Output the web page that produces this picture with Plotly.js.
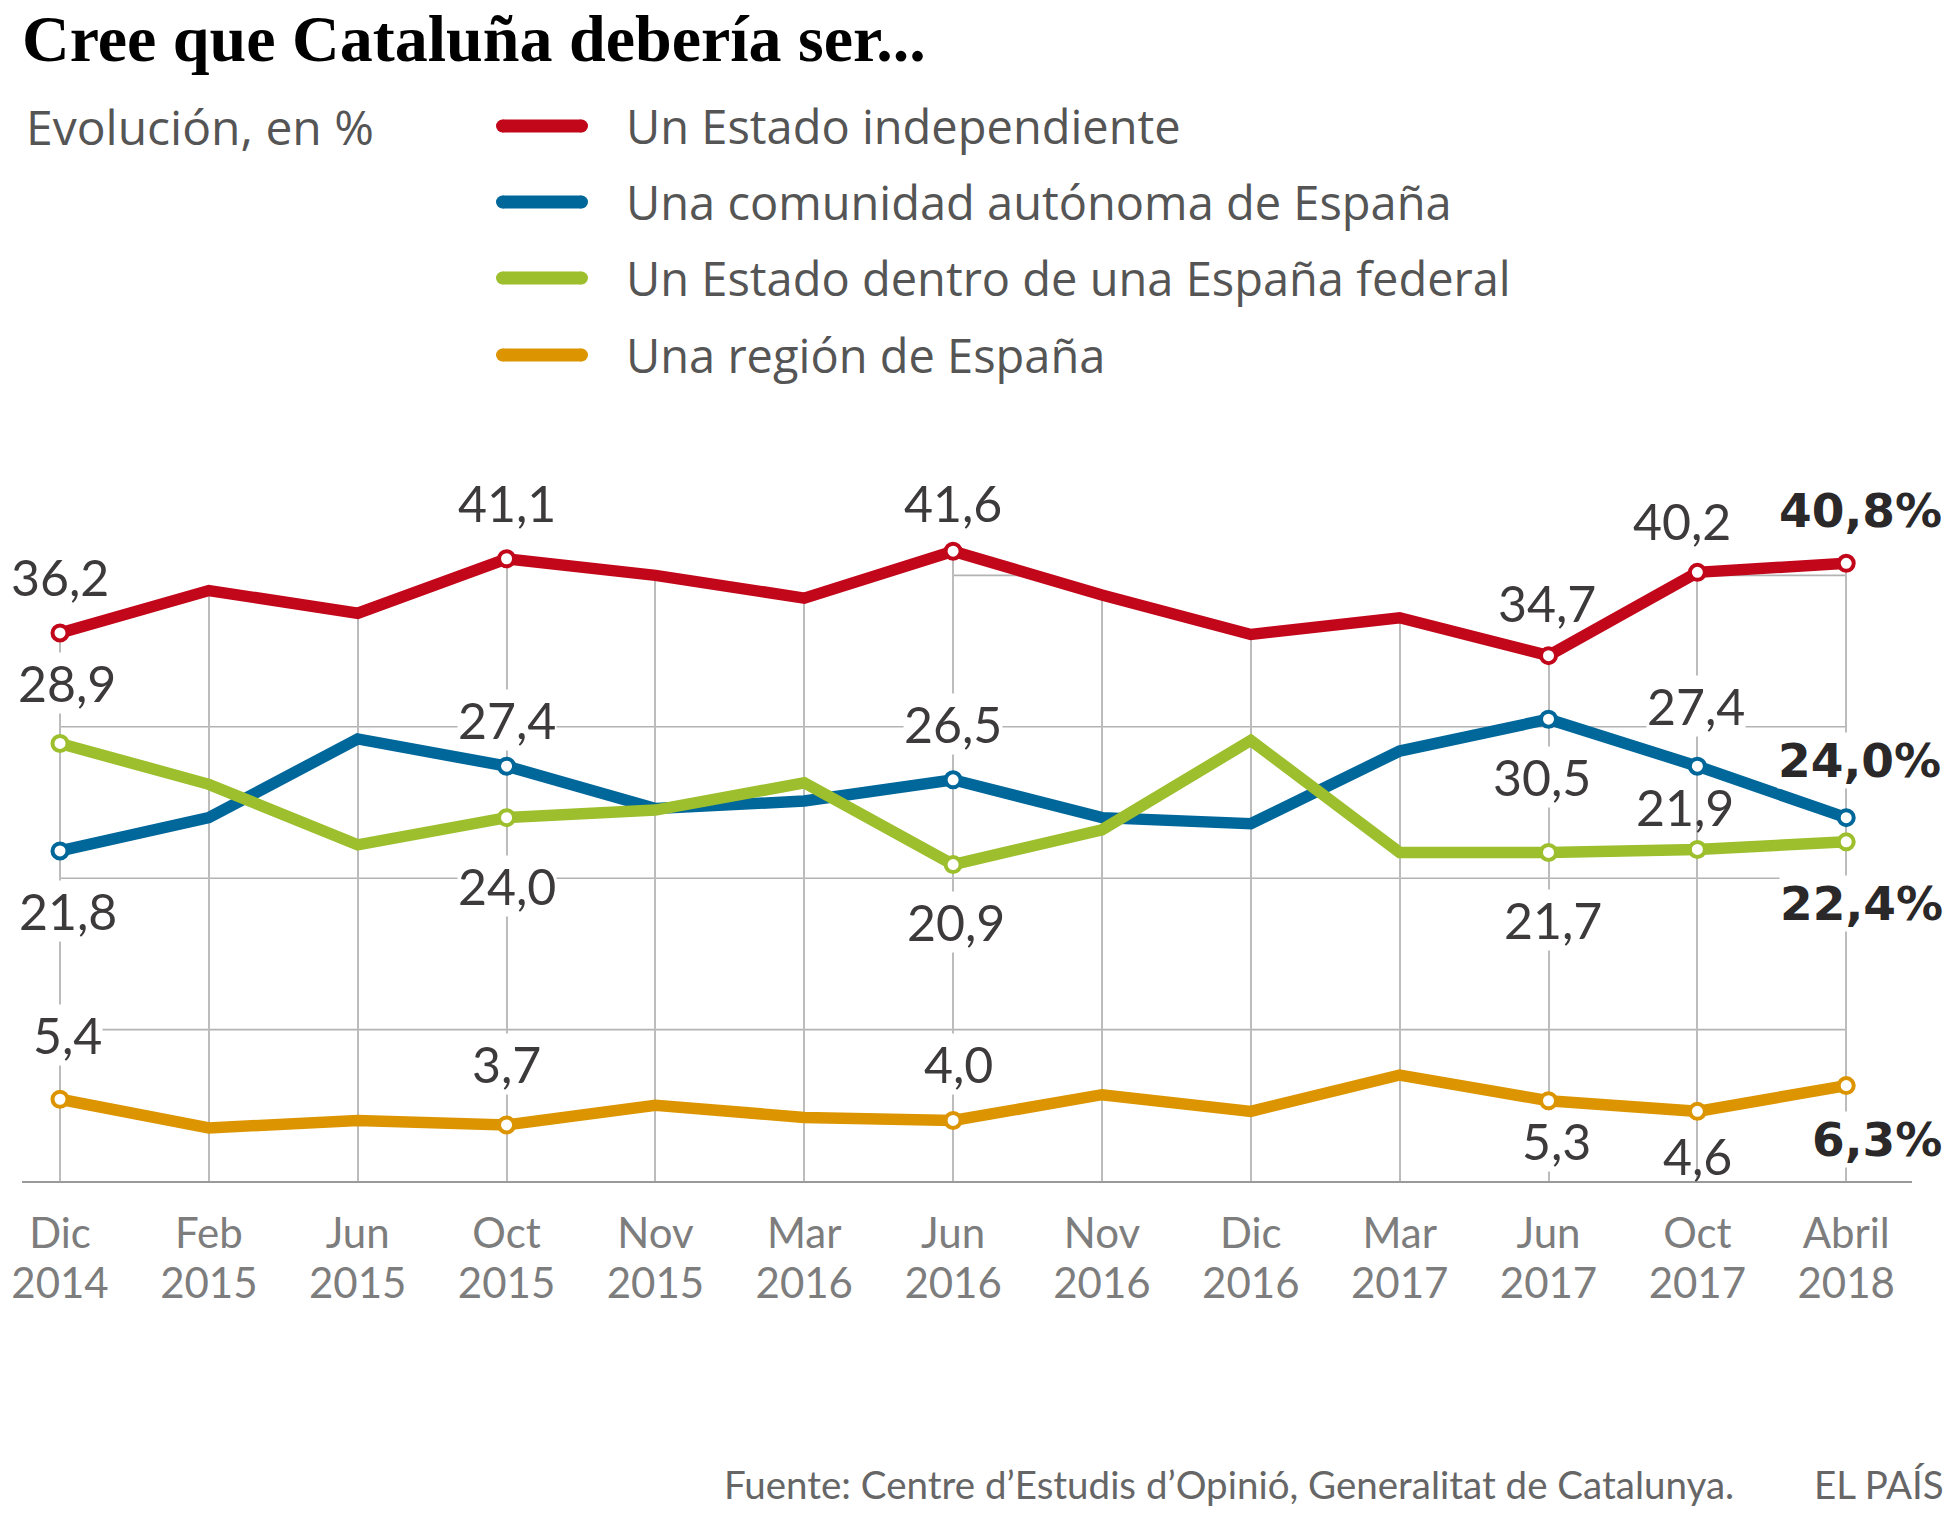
<!DOCTYPE html>
<html>
<head>
<meta charset="utf-8">
<script src="https://cdn.plot.ly/plotly-3.0.1.min.js"></script>
<style>html,body{margin:0;padding:0;background:#fff;}</style>
</head>
<body>
<div id="chart" style="width:1960px;height:1532px;"></div>
<script>
// ---------------- DATA ----------------
const months = ['Dic','Feb','Jun','Oct','Nov','Mar','Jun','Nov','Dic','Mar','Jun','Oct','Abril'];
const years  = ['2014','2015','2015','2015','2015','2016','2016','2016','2016','2017','2017','2017','2018'];
const independiente = [36.2, 39.0, 37.5, 41.1, 40.0, 38.5, 41.6, 38.7, 36.1, 37.2, 34.7, 40.2, 40.8];
const comunidad     = [21.8, 24.0, 29.2, 27.4, 24.6, 25.1, 26.5, 24.0, 23.6, 28.4, 30.5, 27.4, 24.0];
const federal       = [28.9, 26.2, 22.2, 24.0, 24.5, 26.3, 20.9, 23.2, 29.1, 21.7, 21.7, 21.9, 22.4];
const region        = [5.4, 3.5, 4.0, 3.7, 5.0, 4.2, 4.0, 5.7, 4.6, 7.0, 5.3, 4.6, 6.3];
const seriesNames = ['Un Estado independiente','Una comunidad autónoma de España','Un Estado dentro de una España federal','Una región de España'];
const labelledIdx = [0, 3, 6, 10, 11, 12];
const gridValues = [10, 20, 30, 40];

// ---------------- STYLE ----------------
const W = 1960, H = 1532;
const M = {l: 22, r: 48, t: 424, b: 351};
const Y_TOP = 50;
const X_RANGE = [-0.2553, 12.442];
const colors = ['#c2071b', '#00679a', '#9dbf2d', '#dc9500'];
const gridStart = {10: 0, 20: 0, 30: 0, 40: 6};
// label offsets in pixels relative to the point: [dx, dy(up), mask]
const labelStyle = [
  {0:[0,56,0], 3:[0,56,0], 6:[0,48,0], 10:[-2,53,0], 11:[-15,51,0], 12:[14,53,0]},
  {0:[8,-60,1], 3:[0,46,1], 6:[0,56,1], 10:[-7,-58,1], 11:[-1,60,1], 12:[13,57,1]},
  {0:[7,60,1], 3:[0,-68,1], 6:[3,-57,1], 10:[4,-68,1], 11:[-12,42,0], 12:[15,-62,1]},
  {0:[7,64,1], 3:[0,61,1], 6:[5,56,1], 10:[8,-40,1], 11:[0,-45,0], 12:[31,-54,1]}
];
const legendRowsY = [126, 202, 278, 355];

const plotW = W - M.l - M.r, plotH = H - M.t - M.b;
const px2x = px => (px - M.l) / plotW;
const px2y = py => (H - M.b - py) / plotH;

const idx = months.map((_, i) => i);
const allSeries = [independiente, comunidad, federal, region];

const traces = [];
// white mask above the top line (hides grid above it)
traces.push({x: [X_RANGE[0] + 0.1, X_RANGE[1] - 0.1], y: [Y_TOP, Y_TOP], mode: 'lines',
  line: {width: 0, color: 'rgba(0,0,0,0)'}, hoverinfo: 'skip', showlegend: false});
allSeries.forEach((vals, s) => {
  traces.push({
    x: idx, y: vals, mode: 'lines', name: seriesNames[s],
    line: {color: colors[s], width: 11.5},
    fill: s === 0 ? 'tonexty' : 'none', fillcolor: '#ffffff',
    showlegend: false, hoverinfo: 'x+y'
  });
  traces.push({
    x: labelledIdx, y: labelledIdx.map(i => vals[i]), mode: 'markers',
    marker: {size: 15, color: '#ffffff', line: {color: colors[s], width: 4}},
    showlegend: false, hoverinfo: 'skip'
  });
});
// dummy trace for the second (year) axis
traces.push({x: idx, y: idx.map(() => null), xaxis: 'x2', yaxis: 'y', mode: 'lines', showlegend: false, hoverinfo: 'skip'});

const fmt = v => v.toFixed(1).replace('.', ',');
const annotations = [];
allSeries.forEach((vals, s) => {
  labelledIdx.forEach(i => {
    const st = labelStyle[s][i];
    const last = i === vals.length - 1;
    annotations.push({
      x: i, y: vals[i], xref: 'x', yref: 'y', showarrow: false,
      text: last ? '<b>' + fmt(vals[i]) + '%</b>' : fmt(vals[i]),
      xshift: st[0], yshift: st[1], xanchor: 'center', yanchor: 'middle',
      bgcolor: st[2] ? '#ffffff' : 'rgba(0,0,0,0)', borderpad: 0,
      font: last ? {family: 'DejaVu Sans', size: 47, color: '#2b2829'}
                 : {family: 'Lato', size: 50, color: '#3d3a3b'}
    });
  });
});
// subtitle
annotations.push({x: px2x(24), y: px2y(126), xref: 'paper', yref: 'paper', xanchor: 'left', yanchor: 'middle',
  showarrow: false, text: 'Evolución, en %', font: {family: 'Open Sans', size: 48, color: '#555555'}});
// legend text
const shapes = [];
seriesNames.forEach((n, s) => {
  annotations.push({x: px2x(624), y: px2y(legendRowsY[s]), xref: 'paper', yref: 'paper', xanchor: 'left', yanchor: 'middle',
    showarrow: false, text: n, font: {family: 'Open Sans', size: 47, color: '#555555'}});
  const cx = px2x(542), cy = px2y(legendRowsY[s]);
  shapes.push({type: 'rect', xref: 'paper', yref: 'paper', xsizemode: 'pixel', ysizemode: 'pixel',
    xanchor: cx, yanchor: cy, x0: -39.5, x1: 39.5, y0: -6.5, y1: 6.5, fillcolor: colors[s], line: {width: 0}, layer: 'above'});
  [-39.5, 39.5].forEach(ex => shapes.push({type: 'circle', xref: 'paper', yref: 'paper', xsizemode: 'pixel', ysizemode: 'pixel',
    xanchor: cx, yanchor: cy, x0: ex - 6.5, x1: ex + 6.5, y0: -6.5, y1: 6.5, fillcolor: colors[s], line: {width: 0}, layer: 'above'}));
});
// footer
annotations.push({x: px2x(722), y: px2y(1484), xref: 'paper', yref: 'paper', xanchor: 'left', yanchor: 'middle',
  showarrow: false, text: 'Fuente: Centre d’Estudis d’Opinió, Generalitat de Catalunya.', font: {family: 'Lato', size: 38.5, color: '#666666'}});
annotations.push({x: px2x(1946), y: px2y(1484), xref: 'paper', yref: 'paper', xanchor: 'right', yanchor: 'middle',
  showarrow: false, text: 'EL PAÍS', font: {family: 'Lato', size: 38.5, color: '#666666'}});

// horizontal gridlines
gridValues.forEach(g => shapes.push({type: 'line', xref: 'x', yref: 'y', x0: gridStart[g], x1: idx[idx.length - 1], y0: g, y1: g,
  line: {color: '#b3b3b3', width: 1.6}, layer: 'below'}));

const layout = {
  width: W, height: H, margin: M, paper_bgcolor: '#ffffff', plot_bgcolor: '#ffffff',
  showlegend: false,
  title: {text: '<b>Cree que Cataluña debería ser...</b>', xref: 'container', yref: 'container',
    x: 22 / W, xanchor: 'left', y: 1 - 38 / H, yanchor: 'middle',
    font: {family: 'Liberation Serif', size: 66, color: '#000000'}},
  xaxis: {range: X_RANGE, tickvals: idx, ticktext: months, showgrid: true, gridcolor: '#bcbcbc', gridwidth: 2,
    showline: true, linecolor: '#9a9a9a', linewidth: 2, zeroline: false, ticks: 'outside', ticklen: 15,
    tickcolor: 'rgba(0,0,0,0)', tickfont: {family: 'Lato', size: 42, color: '#7d7d7d'}, fixedrange: true},
  xaxis2: {range: X_RANGE, overlaying: 'x', anchor: 'y', side: 'bottom', tickvals: idx, ticktext: years,
    showgrid: false, showline: false, zeroline: false, ticks: 'outside', ticklen: 66,
    tickcolor: 'rgba(0,0,0,0)', tickfont: {family: 'Lato', size: 42, color: '#7d7d7d'}, fixedrange: true},
  yaxis: {range: [0, Y_TOP], showgrid: false, zeroline: false, showticklabels: false, ticks: '', showline: false, fixedrange: true},
  annotations: annotations, shapes: shapes
};
Plotly.newPlot('chart', traces, layout, {displayModeBar: false, responsive: false});
</script>
</body>
</html>
